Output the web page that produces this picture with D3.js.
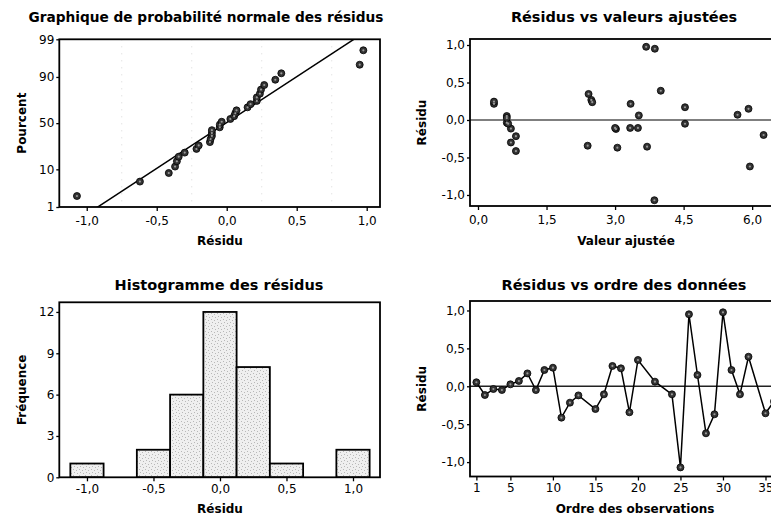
<!DOCTYPE html>
<html>
<head>
<meta charset="utf-8">
<script src="https://cdn.jsdelivr.net/npm/d3@7"></script>
<style>
  html, body { margin: 0; padding: 0; background: #fff; }
  svg { display: block; }
  text { font-family: "DejaVu Sans", Verdana, sans-serif; fill: #000; }
  .title { font-weight: bold; font-size: 14.5px; }
  .axis-title { font-weight: bold; font-size: 12px; }
  .tick text { font-size: 12px; }
</style>
</head>
<body>
<svg id="chart" width="771" height="521"></svg>
<script>
// Observation numbers (rows 14, 21, 23 and 34 are missing)
const obsOrder = [1, 2, 3, 4, 5, 6, 7, 8, 9, 10, 11, 12, 13, 15, 16, 17, 18, 19, 20,
                  22, 24, 25, 26, 27, 28, 29, 30, 31, 32, 33, 35, 36];
// Residuals, in observation order
const residuals = [0.053, -0.115, -0.036, -0.049, 0.026, 0.070, 0.170, -0.050, 0.215, 0.245,
                   -0.414, -0.216, -0.120, -0.300, -0.106, 0.268, 0.237, -0.343, 0.347,
                   0.061, -0.106, -1.070, 0.950, 0.149, -0.620, -0.369, 0.976, 0.215, -0.106,
                   0.390, -0.356, -0.200];
// Fitted values, in observation order
const fitted = [0.63, 0.72, 0.63, 0.66, 0.63, 5.68, 4.53, 4.53, 0.35, 0.35,
                0.83, 0.83, 3.02, 0.72, 3.00, 2.48, 2.50, 2.40, 2.42,
                3.52, 3.33, 3.86, 3.87, 5.92, 5.95, 3.05, 3.68, 3.34, 3.50,
                4.00, 3.70, 6.25];

// Tick values
const probTicks = [1, 10, 50, 90, 99];
const residTicks = [-1.0, -0.5, 0.0, 0.5, 1.0];
const fitTicks = [0.0, 1.5, 3.0, 4.5, 6.0];
const freqTicks = [0, 3, 6, 9, 12];
const orderTicks = [1, 5, 10, 15, 20, 25, 30, 35];
const binWidth = 0.25;

const fr = d3.formatLocale({ decimal: ",", thousands: " ", grouping: [3], currency: ["", " €"], minus: "-" });
const f1 = fr.format(".1f");

const svg = d3.select("#chart");

// Histogram bar texture
const defs = svg.append("defs");
const pat = defs.append("pattern").attr("id", "stipple")
  .attr("width", 6).attr("height", 6).attr("patternUnits", "userSpaceOnUse");
pat.append("rect").attr("width", 6).attr("height", 6).attr("fill", "#efefef");
[[1, 1], [4, 2], [2, 4], [5, 5]].forEach(([x, y]) =>
  pat.append("rect").attr("x", x).attr("y", y).attr("width", 1).attr("height", 1).attr("fill", "#b8b8b8"));

// Inverse standard normal CDF (Acklam)
function qnorm(p) {
  const a = [-3.969683028665376e+01, 2.209460984245205e+02, -2.759285104469687e+02, 1.383577518672690e+02, -3.066479806614716e+01, 2.506628277459239e+00];
  const b = [-5.447609879822406e+01, 1.615858368580409e+02, -1.556989798598866e+02, 6.680131188771972e+01, -1.328068155288572e+01];
  const c = [-7.784894002430293e-03, -3.223964580411365e-01, -2.400758277161838e+00, -2.549732539343734e+00, 4.374664141464968e+00, 2.938163982698783e+00];
  const d = [7.784695709041462e-03, 3.224671290700398e-01, 2.445134137142996e+00, 3.754408661907416e+00];
  const pl = 0.02425, ph = 1 - pl;
  let q, r;
  if (p < pl) {
    q = Math.sqrt(-2 * Math.log(p));
    return (((((c[0]*q+c[1])*q+c[2])*q+c[3])*q+c[4])*q+c[5]) / ((((d[0]*q+d[1])*q+d[2])*q+d[3])*q+1);
  } else if (p <= ph) {
    q = p - 0.5; r = q * q;
    return (((((a[0]*r+a[1])*r+a[2])*r+a[3])*r+a[4])*r+a[5])*q / (((((b[0]*r+b[1])*r+b[2])*r+b[3])*r+b[4])*r+1);
  } else {
    q = Math.sqrt(-2 * Math.log(1 - p));
    return -(((((c[0]*q+c[1])*q+c[2])*q+c[3])*q+c[4])*q+c[5]) / ((((d[0]*q+d[1])*q+d[2])*q+d[3])*q+1);
  }
}

function panel(cfg) {
  const g = svg.append("g");
  const [x0, x1] = cfg.x.range(), [y0, y1] = cfg.y.range();
  // clip for marks
  const id = "clip" + cfg.name;
  defs.append("clipPath").attr("id", id).append("rect")
    .attr("x", x0).attr("y", y1).attr("width", x1 - x0).attr("height", y0 - y1);
  const plot = g.append("g").attr("clip-path", `url(#${id})`);

  // axes
  const ax = g.append("g").attr("transform", `translate(0,${y0})`)
    .call(d3.axisBottom(cfg.x).tickValues(cfg.xTicks).tickFormat(cfg.xFmt).tickSizeOuter(0).tickSize(4).tickPadding(cfg.xPad));
  const ay = g.append("g").attr("transform", `translate(${x0},0)`)
    .call(d3.axisLeft(cfg.y).tickValues(cfg.yTicks).tickFormat(cfg.yFmt).tickSizeOuter(0).tickSize(3).tickPadding(2));
  [ax, ay].forEach(a => {
    a.select(".domain").remove();
    a.selectAll(".tick line").attr("stroke", "#000").attr("stroke-width", 1.3);
    a.selectAll(".tick text").attr("fill", "#000");
  });

  // frame
  g.append("rect").attr("x", x0).attr("y", y1).attr("width", x1 - x0).attr("height", y0 - y1)
    .attr("fill", "none").attr("stroke", "#000").attr("stroke-width", 1.8);

  // titles
  g.append("text").attr("class", "title").attr("x", cfg.titleX).attr("y", cfg.titleY)
    .attr("text-anchor", "middle").style("font-size", cfg.titleSize || null).text(cfg.title);
  g.append("text").attr("class", "axis-title").attr("x", cfg.xTitleX).attr("y", cfg.xTitleY)
    .attr("text-anchor", "middle").text(cfg.xTitle);
  g.append("text").attr("class", "axis-title")
    .attr("transform", `translate(${cfg.yTitleX},${(y0 + y1) / 2}) rotate(-90)`)
    .attr("text-anchor", "middle").text(cfg.yTitle);
  return { g, plot };
}

function dots(sel, data, x, y) {
  sel.selectAll("circle.pt").data(data).join("circle").attr("class", "pt")
    .attr("cx", d => x(d[0])).attr("cy", d => y(d[1])).attr("r", 3.5)
    .attr("fill", "#333").attr("stroke", "#000").attr("stroke-width", 0.8);
  sel.selectAll("circle.hl").data(data).join("circle").attr("class", "hl")
    .attr("cx", d => x(d[0])).attr("cy", d => y(d[1])).attr("r", 1.1)
    .attr("fill", "#999");
}

const n = residuals.length;

// ---------- Normal probability plot ----------
{
  const x = d3.scaleLinear().domain([-1.196, 1.095]).range([59.3, 380]);
  const zMax = qnorm(0.99);
  const y = d3.scaleLinear().domain([-zMax, zMax]).range([207, 39.3]);
  const { plot } = panel({
    name: "prob", x, y, xTicks: residTicks, xFmt: f1, xPad: 5,
    yTicks: probTicks.map(p => qnorm(p / 100)), yFmt: (d, i) => probTicks[i],
    title: "Graphique de probabilité normale des résidus", titleX: 206, titleY: 22, titleSize: "13.7px",
    xTitle: "Résidu", xTitleX: 220, xTitleY: 245, yTitle: "Pourcent", yTitleX: 26
  });
  // light grid
  plot.selectAll("line.gx").data([-0.75, -0.25, 0.25, 0.75]).join("line")
    .attr("x1", d => x(d)).attr("x2", d => x(d)).attr("y1", 39.3).attr("y2", 207)
    .attr("stroke", "#cfcfcf").attr("stroke-width", 0.8).attr("stroke-dasharray", "1,6");
  const sorted = residuals.slice().sort(d3.ascending);
  const pts = sorted.map((r, i) => [r, qnorm((i + 1 - 0.3) / (n + 0.4))]);
  const mu = d3.mean(residuals), sd = d3.deviation(residuals);
  plot.append("line")
    .attr("x1", x(mu - 3 * sd)).attr("y1", y(-3)).attr("x2", x(mu + 3 * sd)).attr("y2", y(3))
    .attr("stroke", "#000").attr("stroke-width", 1.5);
  dots(plot, pts, x, y);
}

// ---------- Residuals vs fitted ----------
{
  const x = d3.scaleLinear().domain([-0.175, 6.85]).range([470, 791]);
  const y = d3.scaleLinear().domain([-1.147, 1.08]).range([206, 39]);
  const { plot } = panel({
    name: "fit", x, y, xTicks: fitTicks, xFmt: f1, xPad: 5,
    yTicks: residTicks, yFmt: f1,
    title: "Résidus vs valeurs ajustées", titleX: 624, titleY: 22,
    xTitle: "Valeur ajustée", xTitleX: 626, xTitleY: 245, yTitle: "Résidu", yTitleX: 426
  });
  plot.append("line").attr("x1", 470).attr("x2", 791).attr("y1", y(0)).attr("y2", y(0))
    .attr("stroke", "#555").attr("stroke-width", 1.6);
  dots(plot, fitted.map((f, i) => [f, residuals[i]]), x, y);
}

// ---------- Histogram ----------
{
  const x = d3.scaleLinear().domain([-1.208, 1.203]).range([59.3, 380]);
  const y = d3.scaleLinear().domain([0, 12.7]).range([477.3, 302.3]);
  const lo = -4.5 * binWidth, hi = 4.5 * binWidth;
  const bins = d3.bin().domain([lo, hi])
    .thresholds(d3.range(-3, 5).map(i => (i - 0.5) * binWidth))(residuals);
  const { plot } = panel({
    name: "hist", x, y, xTicks: residTicks, xFmt: f1, xPad: 3,
    yTicks: freqTicks, yFmt: d3.format("d"),
    title: "Histogramme des résidus", titleX: 219, titleY: 290,
    xTitle: "Résidu", xTitleX: 220, xTitleY: 513, yTitle: "Fréquence", yTitleX: 26
  });
  plot.selectAll("rect.bar").data(bins.filter(b => b.length > 0)).join("rect").attr("class", "bar")
    .attr("x", b => x(b.x0)).attr("width", b => x(b.x1) - x(b.x0))
    .attr("y", b => y(b.length)).attr("height", b => y(0) - y(b.length))
    .attr("fill", "url(#stipple)").attr("stroke", "#000").attr("stroke-width", 1.8);
}

// ---------- Residuals vs order ----------
{
  const x = d3.scaleLinear().domain([0.25, 38]).range([470, 791]);
  const y = d3.scaleLinear().domain([-1.19, 1.125]).range([476.5, 301]);
  const { plot } = panel({
    name: "order", x, y, xTicks: orderTicks, xFmt: d3.format("d"), xPad: 3,
    yTicks: residTicks, yFmt: f1,
    title: "Résidus vs ordre des données", titleX: 624, titleY: 290,
    xTitle: "Ordre des observations", xTitleX: 635, xTitleY: 513, yTitle: "Résidu", yTitleX: 426
  });
  plot.append("line").attr("x1", 470).attr("x2", 791).attr("y1", y(0)).attr("y2", y(0))
    .attr("stroke", "#222").attr("stroke-width", 1.6);
  const pts = obsOrder.map((o, i) => [o, residuals[i]]);
  plot.append("path").datum(pts)
    .attr("d", d3.line().x(d => x(d[0])).y(d => y(d[1])))
    .attr("fill", "none").attr("stroke", "#000").attr("stroke-width", 1.5);
  dots(plot, pts, x, y);
}
</script>
</body>
</html>
